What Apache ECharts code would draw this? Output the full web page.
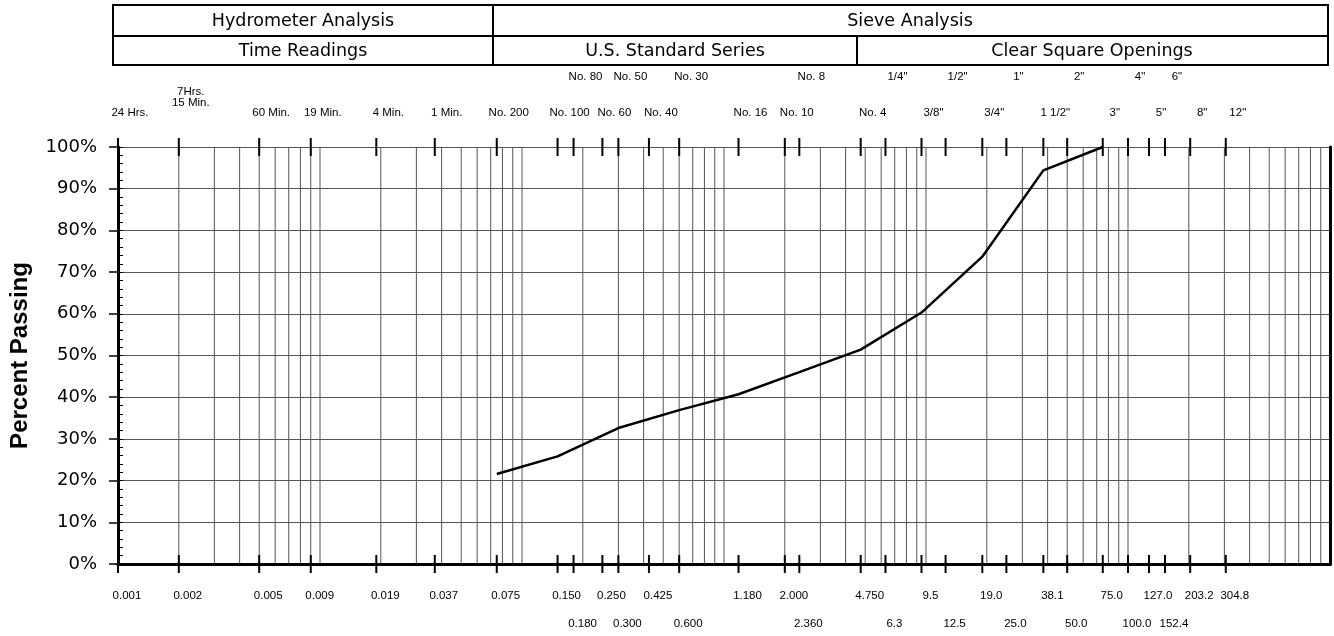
<!DOCTYPE html>
<html>
<head>
<meta charset="utf-8">
<script src="https://cdn.jsdelivr.net/npm/echarts@6/dist/echarts.min.js"></script>
<style>
  html, body { margin: 0; padding: 0; background: #fff; }
  #main { width: 1334px; height: 636px; }
</style>
</head>
<body>
<div id="main"></div>
<script>
// grain size (mm) / percent passing
var sizes   = [0.075, 0.150, 0.300, 0.600, 1.18, 2.36, 4.75, 9.5, 19.0, 38.1, 75.0];
var passing = [21.6, 25.8, 32.6, 36.9, 40.7, 46.0, 51.4, 60.3, 73.7, 94.4, 100];

// sieve / hydrometer reference sizes (mm)
var tickSizes = [0.001, 0.002, 0.005, 0.009, 0.019, 0.037, 0.075, 0.150, 0.180, 0.250,
                 0.300, 0.425, 0.600, 1.180, 2.000, 2.360, 4.750, 6.3, 9.5, 12.5,
                 19.0, 25.0, 38.1, 50.0, 75.0, 100.0, 127.0, 152.4, 203.2, 304.8];
var bottomLabels = ['0.001', '0.002', '0.005', '0.009', '0.019', '0.037', '0.075', '0.150', '0.180', '0.250',
                    '0.300', '0.425', '0.600', '1.180', '2.000', '2.360', '4.750', '6.3', '9.5', '12.5',
                    '19.0', '25.0', '38.1', '50.0', '75.0', '100.0', '127.0', '152.4', '203.2', '304.8'];
var topLabels = ['24 Hrs.', '7Hrs.\n15 Min.', '60 Min.', '19 Min.', '4 Min.', '1 Min.', 'No. 200', 'No. 100', 'No. 80', 'No. 60',
                 'No. 50', 'No. 40', 'No. 30', 'No. 16', 'No. 10', 'No. 8', 'No. 4', '1/4"', '3/8"', '1/2"',
                 '3/4"', '1"', '1 1/2"', '2"', '3"', '4"', '5"', '6"', '8"', '12"'];
// 1 = label sits on the second (staggered) row
var stagger = [0, 0, 0, 0, 0, 0, 0, 0, 1, 0,
               1, 0, 1, 0, 0, 1, 0, 1, 0, 1,
               0, 1, 0, 1, 0, 1, 0, 1, 0, 0];

// log paper vertical lines (1..9 per decade)
var gridVals = [];
for (var d = -3; d <= 2; d++) {
  for (var k = 1; k <= 9; k++) {
    var v = +(k * Math.pow(10, d)).toPrecision(3);
    if (v > 0.001) gridVals.push(v);
  }
}

var smallFont = "'Liberation Sans', Arial, sans-serif";
var bigFont = "'DejaVu Sans', sans-serif";

var chart = echarts.init(document.getElementById('main'));

var option = {
  animation: false,
  grid: { left: 118, right: 4, top: 147, bottom: 72 },
  xAxis: [
    {
      type: 'log', logBase: 10, min: 0.001, max: 1000, position: 'bottom',
      axisLine: { show: true, lineStyle: { color: '#000', width: 3 } },
      axisTick: { show: false }, axisLabel: { show: false }, splitLine: { show: false }
    },
    {
      type: 'log', logBase: 10, min: 0.001, max: 1000, position: 'top',
      axisLine: { show: true, lineStyle: { color: '#000', width: 3 } },
      axisTick: { show: false }, axisLabel: { show: false }, splitLine: { show: false }
    }
  ],
  yAxis: [
    {
      type: 'value', min: 0, max: 100, interval: 10, position: 'left',
      name: 'Percent Passing', nameLocation: 'middle', nameGap: 86,
      nameTextStyle: { fontFamily: smallFont, fontWeight: 'bold', fontSize: 24, color: '#000' },
      axisLine: { show: true, lineStyle: { color: '#000', width: 3 } },
      axisTick: { show: true, length: 9, lineStyle: { color: '#000', width: 1.5 } },
      axisLabel: { formatter: '{value}%', margin: 21, fontFamily: bigFont, fontSize: 18, color: '#000' },
      splitLine: { show: true, lineStyle: { color: '#555', width: 1 } }
    },
    {
      type: 'value', min: 0, max: 100, interval: 10, position: 'left',
      axisLine: { show: false },
      axisTick: { show: true, inside: true, length: 5, lineStyle: { color: '#000', width: 1 } },
      minorTick: { show: true, splitNumber: 5, length: 5, lineStyle: { color: '#000', width: 1 } },
      axisLabel: { show: false }, splitLine: { show: false }
    },
    {
      type: 'value', min: 0, max: 100, interval: 10, position: 'right',
      axisLine: { show: true, lineStyle: { color: '#000', width: 3 } },
      axisTick: { show: false }, axisLabel: { show: false }, splitLine: { show: false }
    }
  ],
  series: [
    {
      name: 'Gradation', type: 'line', z: 5,
      data: sizes.map(function (s, i) { return [s, passing[i]]; }),
      symbol: 'none',
      lineStyle: { color: '#000', width: 2.5 }
    }
  ]
};
chart.setOption(option);

var yTop = chart.convertToPixel({ yAxisIndex: 0 }, 100);
var yBot = chart.convertToPixel({ yAxisIndex: 0 }, 0);
var g = [];

// vertical log grid lines
gridVals.forEach(function (v) {
  var x = chart.convertToPixel({ xAxisIndex: 0 }, v);
  g.push({ type: 'line', z: -1, silent: true, shape: { x1: x, y1: yTop, x2: x, y2: yBot }, style: { stroke: '#555', lineWidth: 1 } });
});

// sieve ticks and labels, placed through the axis scale
tickSizes.forEach(function (v, i) {
  var x = chart.convertToPixel({ xAxisIndex: 0 }, v);
  g.push({ type: 'line', z: 20, shape: { x1: x, y1: yTop - 9, x2: x, y2: yTop + 9 }, style: { stroke: '#000', lineWidth: 2 } });
  g.push({ type: 'line', z: 20, shape: { x1: x, y1: yBot - 9, x2: x, y2: yBot + 9 }, style: { stroke: '#000', lineWidth: 2 } });
  g.push({
    type: 'text', z: 20, x: x + 9, y: stagger[i] ? yBot + 60 : yBot + 32,
    style: { text: bottomLabels[i], fontFamily: smallFont, fontSize: 11.5, fill: '#000', align: 'center', verticalAlign: 'middle' }
  });
  var two = topLabels[i].indexOf('\n') >= 0;
  g.push({
    type: 'text', z: 20, x: x + 12, y: stagger[i] ? yTop - 70 : (two ? yTop - 50 : yTop - 34),
    style: { text: topLabels[i], fontFamily: smallFont, fontSize: 11.5, lineHeight: 11, fill: '#000', align: 'center', verticalAlign: 'middle' }
  });
});

// header table
var hs = { stroke: '#000', lineWidth: 2 };
g.push({ type: 'rect', shape: { x: 113, y: 5, width: 1215, height: 60 }, style: { fill: 'none', stroke: '#000', lineWidth: 2 } });
g.push({ type: 'line', shape: { x1: 113, y1: 36, x2: 1328, y2: 36 }, style: hs });
g.push({ type: 'line', shape: { x1: 493, y1: 5, x2: 493, y2: 65 }, style: hs });
g.push({ type: 'line', shape: { x1: 857, y1: 36, x2: 857, y2: 65 }, style: hs });
var heads = [
  ['Hydrometer Analysis', 303, 21], ['Sieve Analysis', 910, 21],
  ['Time Readings', 303, 51], ['U.S. Standard Series', 675, 51], ['Clear Square Openings', 1092, 51]
];
heads.forEach(function (h) {
  g.push({ type: 'text', x: h[1], y: h[2], style: { text: h[0], fontFamily: bigFont, fontSize: 17.5, fill: '#000', align: 'center', verticalAlign: 'middle' } });
});

chart.setOption({ graphic: g });
</script>
</body>
</html>
